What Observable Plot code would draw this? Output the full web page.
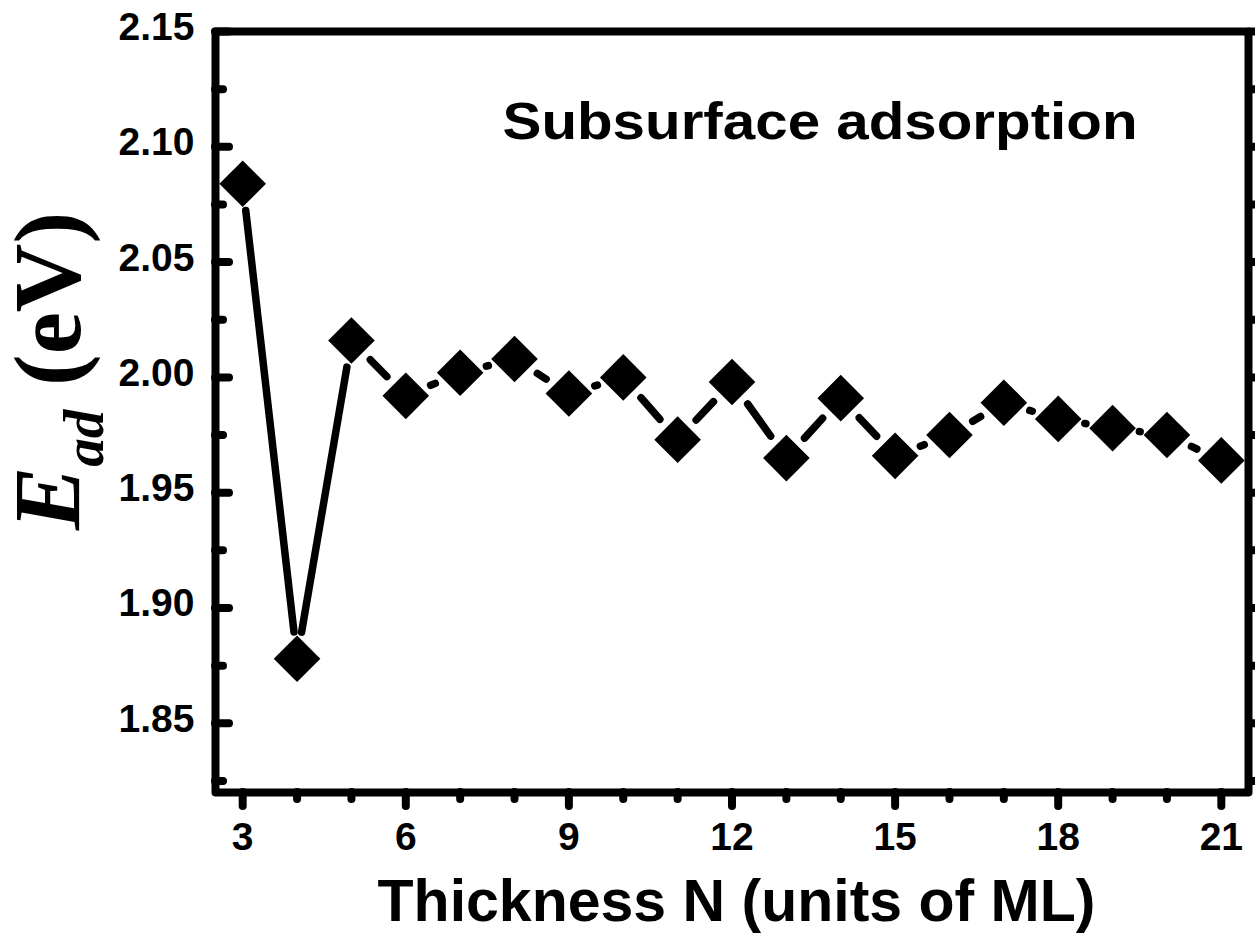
<!DOCTYPE html>
<html><head><meta charset="utf-8">
<script src="https://cdn.jsdelivr.net/npm/d3@7"></script>
<script src="https://cdn.jsdelivr.net/npm/@observablehq/plot@0.6"></script>
<style>body{margin:0;background:#fff}</style>
</head><body><div id="chart"></div>
<script>
const thickness = [3,4,5,6,7,8,9,10,11,12,13,14,15,16,17,18,19,20,21];
const eAd = [2.084,1.878,2.016,1.992,2.002,2.008,1.993,2.000,1.973,1.998,1.965,1.991,1.966,1.975,1.989,1.982,1.978,1.975,1.964];
const xMajorTicks = [3,6,9,12,15,18,21];
const xMinorTicks = [4,5,7,8,10,11,13,14,16,17,19,20];
const yMajorTicks = [1.85,1.90,1.95,2.00,2.05,2.10,2.15];
const yMinorTicks = [1.825,1.875,1.925,1.975,2.025,2.075,2.125];
const xTitle = "Thickness N (units of ML)";
const yTitle = "E_ad (eV)";
const panelLabel = "Subsurface adsorption";

const points = thickness.map((n, i) => ({n, e: eAd[i]}));
const segments = points.slice(1).map((p, i) => ({x1: points[i].n, y1: points[i].e, x2: p.n, y2: p.e}));

const sans = "'Liberation Sans', Arial, sans-serif";
const serif = "'Liberation Serif', 'Times New Roman', serif";

const chart = Plot.plot({
  width: 1255,
  height: 941,
  marginLeft: 215,
  marginRight: 7,
  marginTop: 31,
  marginBottom: 149,
  style: {fontFamily: sans, fontWeight: "bold", background: "#fff", color: "#000"},
  x: {domain: [2.5, 21.5]},
  y: {domain: [1.82, 2.15]},
  marks: [
    Plot.arrow(segments, {x1: "x1", y1: "y1", x2: "x2", y2: "y2", headLength: 0, insetStart: 27, insetEnd: 27, stroke: "#000", strokeWidth: 7.5, strokeLinecap: "round"}),
    Plot.dot(points, {x: "n", y: "e", symbol: "diamond2", r: 21, fill: "#000", stroke: null}),
    // bottom axis
    Plot.axisX({ticks: xMajorTicks, tickSize: 14, tickFormat: () => "", strokeWidth: 8, strokeLinecap: "round", label: null}),
    Plot.axisX({ticks: xMinorTicks, tickSize: 7, tickFormat: () => "", strokeWidth: 8, strokeLinecap: "round", label: null}),
    Plot.axisX({ticks: xMajorTicks, tickSize: 0, tickPadding: 30, fontSize: 39, fontWeight: "bold", fontFamily: sans, label: null}),
    // left axis (inward ticks)
    Plot.axisY({ticks: yMajorTicks, tickSize: 14, dx: 14, tickFormat: () => "", strokeWidth: 8, strokeLinecap: "round", label: null}),
    Plot.axisY({ticks: yMinorTicks, tickSize: 8, dx: 8, tickFormat: () => "", strokeWidth: 8, strokeLinecap: "round", label: null}),
    Plot.axisY({ticks: yMajorTicks, tickSize: 0, tickPadding: 21, dy: -4, tickFormat: d3.format(".2f"), fontSize: 39, fontWeight: "bold", fontFamily: sans, label: null}),
    // right axis (outward ticks)
    Plot.axisY({anchor: "right", ticks: yMajorTicks.concat(yMinorTicks), tickSize: 8, tickFormat: () => "", strokeWidth: 8, strokeLinecap: "round", label: null}),
    Plot.frame({stroke: "#000", strokeWidth: 8, strokeLinejoin: "round"}),
    Plot.text([panelLabel], {frameAnchor: "top", dx: 88, dy: 71, text: d => d, fontSize: 52, fontWeight: "bold", fontFamily: sans, fill: "#000"}),
    Plot.text([xTitle], {frameAnchor: "bottom", dx: 4.5, dy: 128, text: d => d, fontSize: 59, fontWeight: "bold", fontFamily: sans, fill: "#000"}),
    Plot.text([yTitle], {frameAnchor: "left", textAnchor: "middle", lineAnchor: "middle", dx: -166, dy: -41, rotate: -90, text: d => d, fontSize: 95, fontWeight: "bold", fontFamily: serif, fill: "#000"})
  ]
});

document.getElementById("chart").appendChild(chart);

const svg = d3.select(chart);
svg.selectAll("text").filter(function() { return this.textContent === panelLabel; })
  .attr("textLength", 635).attr("lengthAdjust", "spacingAndGlyphs");
svg.selectAll("text").filter(function() { return this.textContent === yTitle; })
  .each(function() {
    const t = d3.select(this);
    t.text("");
    t.append("tspan").attr("font-style", "italic").text("E");
    t.append("tspan").attr("font-style", "italic").attr("font-size", 57).attr("dy", 23).text("ad");
    t.append("tspan").attr("dy", -23).text(" (eV)");
  });
</script>
</body></html>
